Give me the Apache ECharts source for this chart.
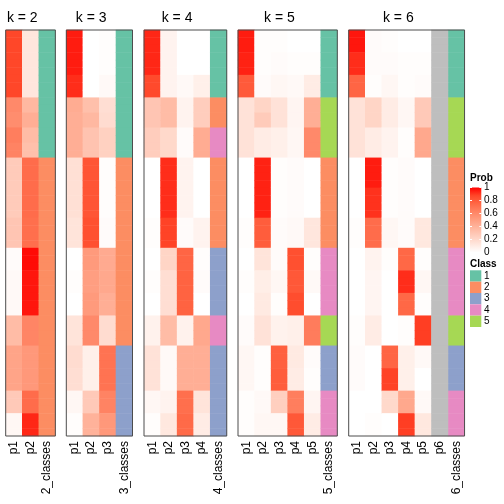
<!DOCTYPE html>
<html><head><meta charset="utf-8">
<script src="https://cdn.jsdelivr.net/npm/echarts@6/dist/echarts.min.js"></script>
<style>html,body{margin:0;padding:0;background:#fff}#c{width:504px;height:504px}</style>
</head><body><div id="c"></div><script>
// ---------------- data ----------------
const k2p1 = [.87,.87,.87,.87,.87,.87,.87,.87,.87,.6,.6,.58,.58,.65,.65,.63,.63,.27,.27,.27,.27,.27,.27,.27,.27,.3,.3,.3,.3,.02,.02,.02,.03,.03,.03,.03,.03,.03,.35,.35,.35,.35,.47,.47,.47,.47,.47,.47,.28,.28,.28,.04,.04,.04];
const k2p2 = [.13,.13,.13,.13,.13,.13,.13,.13,.13,.37,.37,.42,.42,.35,.35,.33,.33,.73,.73,.73,.73,.73,.73,.73,.73,.72,.72,.72,.72,.98,.98,.98,.96,.96,.96,.96,.96,.96,.62,.62,.62,.62,.53,.53,.53,.53,.53,.53,.73,.73,.73,.93,.93,.93];
const k2cls = [1,1,1,1,1,1,1,1,1,1,1,1,1,1,1,1,1,2,2,2,2,2,2,2,2,2,2,2,2,2,2,2,2,2,2,2,2,2,2,2,2,2,2,2,2,2,2,2,2,2,2,2,2,2];

const k3p1 = [.95,.95,.95,.95,.95,.95,.92,.92,.92,.43,.43,.42,.42,.42,.42,.42,.42,.16,.16,.16,.16,.16,.16,.16,.16,.14,.14,.14,.14,0,0,0,.01,.01,.01,0,0,0,.14,.14,.14,.14,.18,.18,.18,.17,.17,.17,.04,.04,.04,.01,.01,.01];
const k3p2 = [0,0,0,0,0,0,0,0,0,.33,.33,.37,.37,.31,.31,.31,.31,.82,.82,.82,.82,.82,.82,.82,.82,.84,.84,.84,.84,.52,.52,.52,.5,.5,.5,.52,.52,.52,.6,.6,.6,.6,.08,.08,.08,.08,.08,.08,.28,.28,.28,.4,.4,.4];
const k3p3 = [.01,.01,.01,.01,.01,.01,.03,.03,.03,.17,.17,.18,.18,.24,.24,.24,.24,.01,.01,.01,.01,.01,.01,.01,.01,.02,.02,.02,.02,.44,.44,.44,.45,.45,.45,.42,.42,.42,.18,.18,.18,.18,.7,.7,.7,.7,.7,.7,.63,.63,.63,.53,.53,.53];
const k3cls = [1,1,1,1,1,1,1,1,1,1,1,1,1,1,1,1,1,2,2,2,2,2,2,2,2,2,2,2,2,2,2,2,2,2,2,2,2,2,2,2,2,2,3,3,3,3,3,3,3,3,3,3,3,3];

const k4p1 = [.93,.93,.93,.93,.93,.93,.86,.86,.86,.3,.3,.3,.3,.26,.26,.26,.26,0,0,0,0,0,0,0,0,.01,.01,.01,.01,0,0,0,.01,.01,.01,0,0,0,.07,.07,.07,.07,.15,.15,.15,.15,.15,.15,.04,.04,.04,.01,.01,.01];
const k4p2 = [.06,.06,.06,.06,.06,.06,.06,.06,.06,.35,.35,.35,.35,.2,.2,.2,.2,.92,.92,.92,.92,.92,.92,.92,.92,.88,.88,.88,.88,.22,.22,.22,.17,.17,.17,.17,.17,.17,.35,.35,.35,.35,.03,.03,.03,.03,.03,.03,.06,.06,.06,.12,.12,.12];
const k4p3 = [0,0,0,0,0,0,.03,.03,.03,.06,.06,.06,.06,.02,.02,.02,.02,.06,.06,.06,.06,.06,.06,.06,.06,.02,.02,.02,.02,.76,.76,.76,.77,.77,.77,.77,.77,.77,.07,.07,.07,.07,.42,.42,.42,.42,.42,.42,.72,.72,.72,.74,.74,.74];
const k4p4 = [0,0,0,0,0,0,.08,.08,.08,.26,.26,.26,.26,.43,.43,.43,.43,0,0,0,0,0,0,0,0,.06,.06,.06,.06,.01,.01,.01,.02,.02,.02,0,0,0,.45,.45,.45,.45,.42,.42,.42,.42,.42,.42,.14,.14,.14,.1,.1,.1];
const k4cls = [1,1,1,1,1,1,1,1,1,2,2,2,2,4,4,4,4,2,2,2,2,2,2,2,2,2,2,2,2,3,3,3,3,3,3,3,3,3,4,4,4,4,3,3,3,3,3,3,3,3,3,3,3,3];

const k5p1 = [.95,.95,.95,.94,.94,.94,.8,.8,.8,.15,.15,.15,.15,.15,.15,.15,.15,0,0,0,0,0,0,0,0,.01,.01,.01,.01,0,0,0,.01,.01,.01,0,0,0,.02,.02,.02,.02,.04,.04,.04,.04,.04,.04,.01,.01,.01,.01,.01,.01];
const k5p2 = [.01,.01,.01,.01,.01,.01,.02,.02,.02,.22,.22,.27,.27,.1,.1,.1,.1,.94,.94,.94,.94,.94,.94,.94,.94,.79,.79,.79,.79,.14,.14,.14,.09,.09,.09,.11,.11,.11,.15,.15,.15,.15,.01,.01,.01,.01,.01,.01,.03,.03,.03,.04,.04,.04];
const k5p3 = [.01,.01,.01,.02,.02,.02,.04,.04,.04,.15,.15,.15,.15,.08,.08,.08,.08,.01,.01,.01,.01,.01,.01,.01,.01,.02,.02,.02,.02,.02,.02,.02,.04,.04,.04,.01,.01,.01,.07,.07,.07,.07,.78,.78,.78,.79,.79,.79,.25,.25,.25,.04,.04,.04];
const k5p4 = [0,0,0,.01,.01,.01,.03,.03,.03,.05,.05,.05,.05,.04,.04,.04,.04,.02,.02,.02,.02,.02,.02,.02,.02,.03,.03,.03,.03,.84,.84,.84,.81,.81,.81,.85,.85,.85,.08,.08,.08,.08,.11,.11,.11,.1,.1,.1,.65,.65,.65,.81,.81,.81];
const k5p5 = [0,0,0,.01,.01,.01,.1,.1,.1,.42,.42,.42,.42,.6,.6,.6,.6,0,0,0,0,0,0,0,0,.13,.13,.13,.13,.01,.01,.01,.03,.03,.03,0,0,0,.66,.66,.66,.66,.02,.02,.02,.01,.01,.01,.05,.05,.05,.1,.1,.1];
const k5cls = [1,1,1,1,1,1,1,1,1,5,5,5,5,5,5,5,5,2,2,2,2,2,2,2,2,2,2,2,2,4,4,4,4,4,4,4,4,4,5,5,5,5,3,3,3,3,3,3,4,4,4,4,4,4];

const k6p1 = [.96,.96,.96,.92,.92,.92,.76,.76,.76,.15,.15,.15,.15,.15,.15,.15,.15,0,0,0,0,0,0,0,0,.01,.01,.01,.01,0,0,0,0,0,0,0,0,0,.01,.01,.01,.01,.02,.02,.02,.02,.02,.02,0,0,0,0,0,0];
const k6p2 = [.02,.02,.02,.02,.02,.02,.01,.01,.01,.22,.22,.22,.22,.1,.1,.1,.1,.95,.95,.95,.95,.91,.91,.91,.91,.73,.73,.73,.73,.06,.06,.06,.05,.05,.05,.05,.05,.05,.1,.1,.1,.1,0,0,0,0,0,0,0,0,0,.01,.01,.01];
const k6p3 = [.01,.01,.01,.02,.02,.02,.04,.04,.04,.1,.1,.1,.1,.06,.06,.06,.06,.01,.01,.01,.01,.01,.01,.01,.01,.04,.04,.04,.04,.01,.01,.01,0,0,0,0,0,0,0,0,0,0,.76,.76,.76,.88,.88,.88,.2,.2,.2,0,0,0];
const k6p4 = [0,0,0,.01,.01,.01,.01,.01,.01,.04,.04,.04,.04,.01,.01,.01,.01,.02,.02,.02,.02,.02,.02,.02,.02,.02,.02,.02,.02,.75,.75,.75,.92,.92,.92,.75,.75,.75,.01,.01,.01,.01,.08,.08,.08,.08,.08,.08,.45,.45,.45,.89,.89,.89];
const k6p5 = [0,0,0,.01,.01,.01,.02,.02,.02,.28,.28,.28,.28,.45,.45,.45,.45,0,0,0,0,0,0,0,0,.12,.12,.12,.12,.01,.01,.01,.04,.04,.04,.01,.01,.01,.89,.89,.89,.89,.03,.03,.03,0,0,0,.03,.03,.03,.12,.12,.12];
const k6p6 = [null,null,null,null,null,null,null,null,null,null,null,null,null,null,null,null,null,null,null,null,null,null,null,null,null,null,null,null,null,null,null,null,null,null,null,null,null,null,null,null,null,null,null,null,null,null,null,null,null,null,null,null,null,null];
const k6cls = [1,1,1,1,1,1,1,1,1,5,5,5,5,5,5,5,5,2,2,2,2,2,2,2,2,2,2,2,2,4,4,4,4,4,4,4,4,4,5,5,5,5,3,3,3,3,3,3,4,4,4,4,4,4];

const probTicks = ['1','0.8','0.6','0.4','0.2','0'];
const classNames = ['1','2','3','4','5'];
const classColors = ['#66C2A5','#FC8D62','#8DA0CB','#E78AC3','#A6D854'];
const naColor = '#BEBEBE';

const panelDefs = [
  {k:2, cols:[k2p1,k2p2], cls:k2cls},
  {k:3, cols:[k3p1,k3p2,k3p3], cls:k3cls},
  {k:4, cols:[k4p1,k4p2,k4p3,k4p4], cls:k4cls},
  {k:5, cols:[k5p1,k5p2,k5p3,k5p4,k5p5], cls:k5cls},
  {k:6, cols:[k6p1,k6p2,k6p3,k6p4,k6p5,k6p6], cls:k6cls}
];

// ---------------- layout ----------------
const TOP = 30, H = 406, COLW = 16.55;
const LEFTS = [5.7, 66.3, 144, 238, 348.7];
const FONT = '"Liberation Sans", Arial, Helvetica, sans-serif';
const NROW = k2cls.length;
const rowCats = k2cls.map((_, i) => String(i + 1));

const grids = [], xAxes = [], yAxes = [], series = [], graphics = [];
const probIdx = [], clsIdx = [];

panelDefs.forEach((p, gi) => {
  const nc = p.cols.length + 1;
  const w = nc * COLW;
  grids.push({left: LEFTS[gi], top: TOP, width: w, height: H, containLabel: false});
  const labels = p.cols.map((_, j) => 'p' + (j + 1)).concat([p.k + '_classes']);
  xAxes.push({type: 'category', gridIndex: gi, data: labels, position: 'bottom',
    axisLine: {show: false}, axisTick: {show: false}, splitLine: {show: false},
    axisLabel: {rotate: 90, interval: 0, margin: 5, fontSize: 12, color: '#000', fontFamily: FONT}});
  yAxes.push({type: 'category', gridIndex: gi, data: rowCats, inverse: true, show: false});
  const pd = [], nd = [], cd = [];
  p.cols.forEach((col, j) => col.forEach((v, r) => {
    if (v === null) nd.push([j, r, 0]); else pd.push([j, r, v]);
  }));
  p.cls.forEach((c, r) => cd.push([p.cols.length, r, c]));
  probIdx.push(series.length);
  series.push({type: 'heatmap', xAxisIndex: gi, yAxisIndex: gi, data: pd, itemStyle: {borderWidth: 0}, emphasis: {disabled: true}});
  clsIdx.push(series.length);
  series.push({type: 'heatmap', xAxisIndex: gi, yAxisIndex: gi, data: cd, itemStyle: {borderWidth: 0}, emphasis: {disabled: true}});
  if (nd.length) {
    clsIdx.push(series.length);
    series.push({type: 'heatmap', xAxisIndex: gi, yAxisIndex: gi, data: nd, itemStyle: {borderWidth: 0}, emphasis: {disabled: true}});
  }
  // frame
  graphics.push({type: 'rect', z: 100, shape: {x: LEFTS[gi], y: TOP, width: w, height: H},
    style: {fill: null, stroke: '#4D4D4D', lineWidth: 1}});
  // title centred over probability columns
  graphics.push({type: 'text', z: 100, x: LEFTS[gi] + p.cols.length * COLW / 2, y: 18.5,
    style: {text: 'k = ' + p.k, font: '14px ' + FONT, fill: '#000', textAlign: 'center', textVerticalAlign: 'middle'}});
});

// legend: Prob
const LX = 470;
graphics.push({type: 'text', x: LX, y: 178, style: {text: 'Prob', font: 'bold 10px ' + FONT, fill: '#000', textVerticalAlign: 'middle'}});
const barTop = 187.5, barH = 65;
graphics.push({type: 'rect', shape: {x: LX, y: barTop, width: 11.3, height: barH},
  style: {fill: new echarts.graphic.LinearGradient(0, 0, 0, 1, [
    {offset: 0, color: '#FF0000'}, {offset: .125, color: '#FF4628'}, {offset: .25, color: '#FF6846'},
    {offset: .375, color: '#FF8464'}, {offset: .5, color: '#FF9E81'}, {offset: .625, color: '#FFB7A0'},
    {offset: .75, color: '#FFCFBF'}, {offset: .875, color: '#FFE7DE'}, {offset: 1, color: '#FFFFFF'}])}});
probTicks.forEach((t, i) => {
  const y = barTop + i * barH / (probTicks.length - 1);
  graphics.push({type: 'line', shape: {x1: LX, y1: y, x2: LX + 2, y2: y}, style: {stroke: '#fff', lineWidth: 1}});
  graphics.push({type: 'line', shape: {x1: LX + 9.3, y1: y, x2: LX + 11.3, y2: y}, style: {stroke: '#fff', lineWidth: 1}});
  graphics.push({type: 'text', x: LX + 14, y: y, style: {text: t, font: '10px ' + FONT, fill: '#000', textVerticalAlign: 'middle'}});
});
// legend: Class
graphics.push({type: 'text', x: LX, y: 264, style: {text: 'Class', font: 'bold 10px ' + FONT, fill: '#000', textVerticalAlign: 'middle'}});
const boxTop = 270.3, boxH = 11.34;
classNames.forEach((c, i) => {
  graphics.push({type: 'rect', shape: {x: LX, y: boxTop + i * boxH, width: 11.3, height: boxH}, style: {fill: classColors[i]}});
  graphics.push({type: 'text', x: LX + 14, y: boxTop + i * boxH + boxH / 2, style: {text: c, font: '10px ' + FONT, fill: '#000', textVerticalAlign: 'middle'}});
});

const probColors = ['#FFFFFF','#FFE7DE','#FFCFBF','#FFB7A0','#FF9E81','#FF8464','#FF6846','#FF4628','#FF0000'];

const chart = echarts.init(document.getElementById('c'), null, {renderer: 'canvas'});
chart.setOption({
  animation: false,
  backgroundColor: '#fff',
  grid: grids, xAxis: xAxes, yAxis: yAxes,
  visualMap: [
    {type: 'continuous', show: false, min: 0, max: 1, dimension: 2, seriesIndex: probIdx, inRange: {color: probColors}},
    {type: 'piecewise', show: false, dimension: 2, seriesIndex: clsIdx,
      pieces: classColors.map((col, i) => ({value: i + 1, color: col})).concat([{value: 0, color: naColor}])}
  ],
  series: series,
  graphic: graphics
});
</script></body></html>
